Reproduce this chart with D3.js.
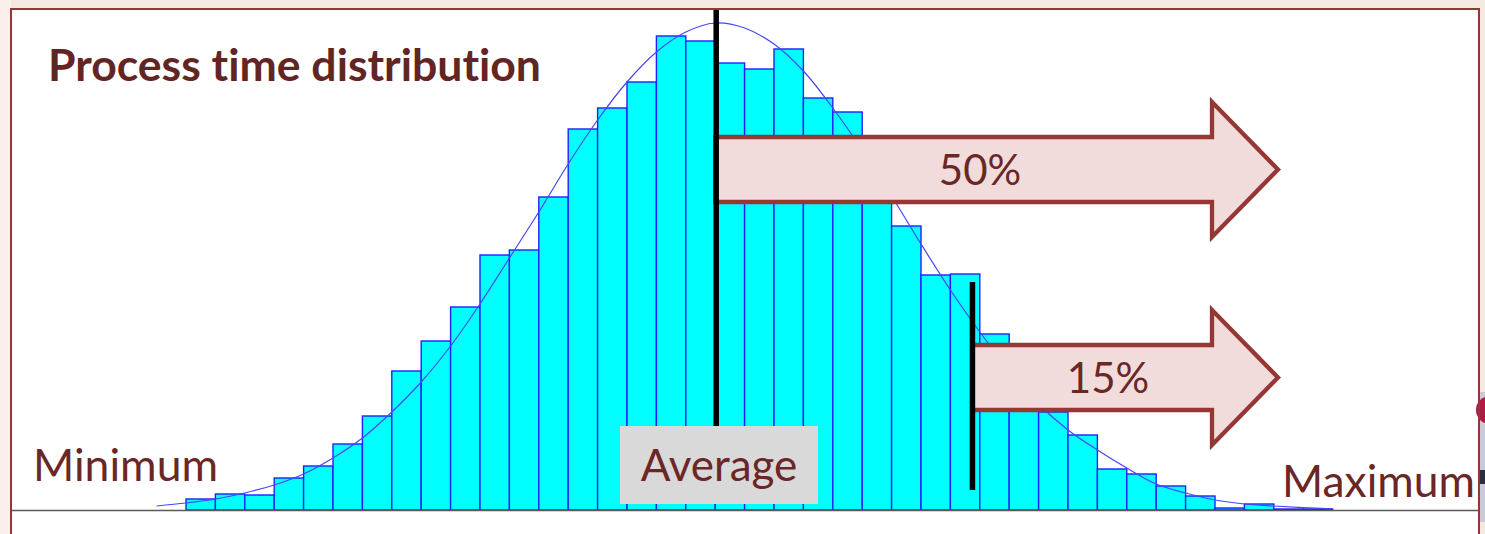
<!DOCTYPE html>
<meta charset="utf-8">
<style>
body { margin: 0; background: #f3e9e1; }
svg { display: block; }
text { font-family: Lato, "Open Sans", sans-serif; fill: #6b2626; font-variant-ligatures: none; }
</style>
<body>
<svg width="1485" height="534"></svg>
<script src="https://cdn.jsdelivr.net/npm/d3@7"></script>
<script>

// histogram counts per bin (39 bins)
var counts = [5.5, 8, 7.5, 16, 22, 33, 47, 69.5, 84.5, 101.5, 127.5, 130, 156.5,
  190.5, 201, 214, 237, 234.5, 223.5, 220.5, 230.5, 206, 199, 170, 142, 117.5,
  118, 88, 65, 49, 37.5, 20.5, 18, 12, 7, 1, 3, 0.5, 0.5];

// fitted curve, read at bin edges -1 .. 39
var curveBins = d3.range(-1, 40);
var curveVals = [2, 3.5, 5.5, 8.5, 12.5, 18, 26, 36, 49, 64, 82, 103, 126, 149,
  173, 195, 214, 229, 239, 243.5, 241, 233, 219.5, 201, 180, 157, 133, 110, 89,
  70, 53, 40, 30, 21, 13, 8.5, 5, 3, 2, 1.2, 0.6];

var avgBin = 18;
var p85Bin = 26.75;
var arrowLabels = ["50%", "15%"];
var endLabels = ["Minimum", "Average", "Maximum"];
var title = "Process time distribution";

var svg = d3.select("svg"),
    width = +svg.attr("width"),
    height = +svg.attr("height");

var red = "#953735";

// page background bits
svg.append("rect").attr("x", 0).attr("y", 0).attr("width", 11).attr("height", height)
    .attr("fill", "#fbefec");
svg.append("rect").attr("x", 11).attr("y", 9).attr("width", 1468).attr("height", height)
    .attr("fill", "#fff");
// slice of a picture on the right edge
svg.append("rect").attr("x", 1480).attr("y", 392).attr("width", 5).attr("height", 130)
    .attr("fill", "#c9cbd8");
svg.append("circle").attr("cx", 1490).attr("cy", 410).attr("r", 14).attr("fill", "#b01845");
svg.append("rect").attr("x", 1480).attr("y", 470).attr("width", 5).attr("height", 14)
    .attr("fill", "#2a2f40");

var x = d3.scaleLinear().domain([0, counts.length]).range([186, 1332.6]);
var y = d3.scaleLinear().domain([0, 240]).range([510, 30]);

svg.append("g").selectAll("rect")
    .data(counts)
  .enter().append("rect")
    .attr("x", function(d, i) { return x(i); })
    .attr("y", function(d) { return y(d); })
    .attr("width", function(d, i) { return x(i + 1) - x(i); })
    .attr("height", function(d) { return y(0) - y(d); })
    .attr("fill", "#00ffff")
    .attr("stroke", "#2020ff")
    .attr("stroke-width", 1.4);

var line = d3.line()
    .x(function(d, i) { return x(curveBins[i]); })
    .y(function(d) { return y(d); })
    .curve(d3.curveCatmullRom);

svg.append("path")
    .datum(curveVals)
    .attr("d", line)
    .attr("fill", "none")
    .attr("stroke", "#4646ff")
    .attr("stroke-width", 1.2);

// baseline
svg.append("line")
    .attr("x1", 12).attr("x2", 1478)
    .attr("y1", y(0) + 0.5).attr("y2", y(0) + 0.5)
    .attr("stroke", "#5a5a5a").attr("stroke-width", 1.5);

// block arrows
function arrow(x0, cy, label, tx) {
  var tip = 1278, neck = 1212, bh = 32.5, hh = 67.5;
  var pts = [[x0, cy - bh], [neck, cy - bh], [neck, cy - hh], [tip, cy],
             [neck, cy + hh], [neck, cy + bh], [x0, cy + bh]];
  svg.append("path")
      .attr("d", "M" + pts.join("L") + "Z")
      .attr("fill", "#f2dcdb")
      .attr("stroke", red)
      .attr("stroke-width", 4.3)
      .attr("stroke-linejoin", "miter");
  svg.append("text")
      .attr("x", tx)
      .attr("y", cy + 15)
      .attr("text-anchor", "middle")
      .style("font-size", "42px")
      .text(label);
}
arrow(x(avgBin), 169.5, arrowLabels[0], 980);
arrow(x(p85Bin), 377.5, arrowLabels[1], 1108);

// marker lines
svg.append("line")
    .attr("x1", x(avgBin) + 1).attr("x2", x(avgBin) + 1)
    .attr("y1", 9).attr("y2", 470)
    .attr("stroke", "#000").attr("stroke-width", 5.5);
svg.append("line")
    .attr("x1", x(p85Bin)).attr("x2", x(p85Bin))
    .attr("y1", 282).attr("y2", 490)
    .attr("stroke", "#000").attr("stroke-width", 5.5);

// average box
svg.append("rect")
    .attr("x", 620).attr("y", 426).attr("width", 198).attr("height", 78)
    .attr("fill", "#d9d9d9");
svg.append("text")
    .attr("x", 719).attr("y", 481)
    .attr("text-anchor", "middle")
    .style("font-size", "44px")
    .text(endLabels[1]);

svg.append("text")
    .attr("x", 33).attr("y", 481)
    .attr("textLength", 185)
    .attr("lengthAdjust", "spacingAndGlyphs")
    .style("font-size", "44px")
    .text(endLabels[0]);
svg.append("text")
    .attr("x", 1282).attr("y", 497)
    .attr("textLength", 193)
    .attr("lengthAdjust", "spacingAndGlyphs")
    .style("font-size", "44px")
    .text(endLabels[2]);

svg.append("text")
    .attr("x", 48).attr("y", 81)
    .attr("textLength", 493)
    .attr("lengthAdjust", "spacingAndGlyphs")
    .style("font-size", "43px")
    .style("font-weight", "bold")
    .style("fill", "#632523")
    .text(title);

// frame
svg.append("rect")
    .attr("x", 11).attr("y", 9).attr("width", 1468).attr("height", height + 20)
    .attr("fill", "none")
    .attr("stroke", red)
    .attr("stroke-width", 2);

</script>
</body>
